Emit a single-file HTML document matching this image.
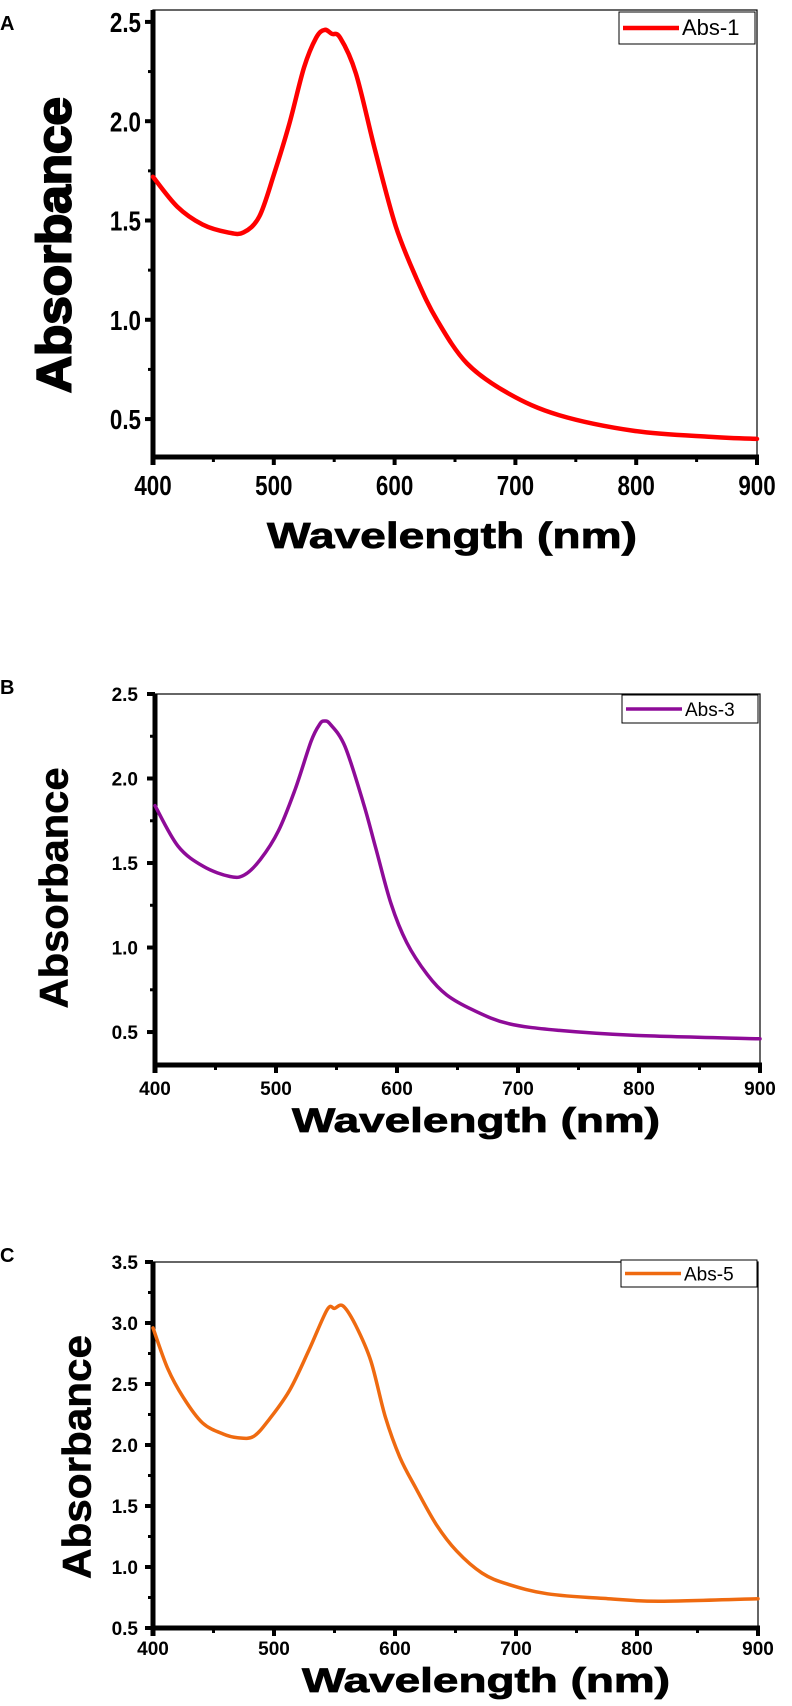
<!DOCTYPE html>
<html><head><meta charset="utf-8">
<style>
html,body{margin:0;padding:0;background:#fff;}
svg{display:block;font-family:"Liberation Sans",Arial,sans-serif;}
</style></head>
<body>
<svg id="fig" width="792" height="1706" viewBox="0 0 792 1706" xmlns="http://www.w3.org/2000/svg"></svg>
<script>
// Panel A data (Abs-1)
const wavelengthsA = [400,420,441,462,475,488,500,513,525,535,542,548,555,568,584,601,618,635,660,694,736,799,862,900];
const absorbA      = [1.72,1.57,1.48,1.44,1.44,1.52,1.73,1.99,2.27,2.42,2.46,2.44,2.42,2.24,1.85,1.47,1.21,1.00,0.78,0.63,0.52,0.44,0.41,0.40];
// Panel B data (Abs-3)
const wavelengthsB = [400,419,440,462,474,487,502,516,529,536,540,545,557,572,582,595,608,625,641,663,692,734,797,900];
const absorbB      = [1.84,1.60,1.48,1.42,1.43,1.52,1.69,1.94,2.22,2.32,2.34,2.32,2.19,1.86,1.60,1.26,1.03,0.84,0.72,0.63,0.55,0.51,0.48,0.46];
// Panel C data (Abs-5)
const wavelengthsC = [400,412,425,441,458,470,483,496,513,529,544,550,557,567,580,592,604,617,634,651,672,693,726,776,818,900];
const absorbC      = [2.96,2.63,2.39,2.18,2.09,2.06,2.07,2.21,2.45,2.78,3.11,3.12,3.14,2.99,2.69,2.23,1.90,1.65,1.35,1.13,0.95,0.86,0.78,0.74,0.72,0.74];
const xTicks = [400,500,600,700,800,900];
const yTicksA = [0.5,1.0,1.5,2.0,2.5];
const yTicksB = [0.5,1.0,1.5,2.0,2.5];
const yTicksC = [0.5,1.0,1.5,2.0,2.5,3.0,3.5];

const NS="http://www.w3.org/2000/svg";
const svg=document.getElementById('fig');
function mk(tag,attrs,parent){const e=document.createElementNS(NS,tag);for(const k in attrs)e.setAttribute(k,attrs[k]);(parent||svg).appendChild(e);return e;}
function smooth(pts){
  let d='M'+pts[0][0].toFixed(1)+','+pts[0][1].toFixed(1);
  for(let i=0;i<pts.length-1;i++){
    const p0=pts[Math.max(i-1,0)],p1=pts[i],p2=pts[i+1],p3=pts[Math.min(i+2,pts.length-1)];
    const c1=[p1[0]+(p2[0]-p0[0])/6,p1[1]+(p2[1]-p0[1])/6];
    const c2=[p2[0]-(p3[0]-p1[0])/6,p2[1]-(p3[1]-p1[1])/6];
    d+=` C${c1[0].toFixed(1)},${c1[1].toFixed(1)} ${c2[0].toFixed(1)},${c2[1].toFixed(1)} ${p2[0].toFixed(1)},${p2[1].toFixed(1)}`;
  }
  return d;
}

const panels=[
 {id:'a',letter:'A',lx:0,ly:30,x0:153,x1:757,yTop:10,yBot:457,vMin:0.309,vMax:2.56,xs:wavelengthsA,ys:absorbA,yt:yTicksA,color:'#ff0000',legend:'Abs-1',
  lg:[619,12,136,32],tickFs:28,tickScale:0.8,tickY:495,ytRight:141,yTitle:{x:53,y:245,len:296,fs:48},xTitle:{x:452,y:548,len:370,fs:36},lw:4.5},
 {id:'b',letter:'B',lx:0,ly:694,x0:155,x1:760,yTop:694,yBot:1065,vMin:0.305,vMax:2.5,xs:wavelengthsB,ys:absorbB,yt:yTicksB,color:'#8e0b98',legend:'Abs-3',
  lg:[622,695,136,28],tickFs:19,tickScale:1,tickY:1095,ytRight:138,yTitle:{x:53,y:888,len:241,fs:40},xTitle:{x:476,y:1132,len:368,fs:34},lw:3.5},
 {id:'c',letter:'C',lx:0,ly:1262,x0:153,x1:758,yTop:1262,yBot:1628,vMin:0.5,vMax:3.5,xs:wavelengthsC,ys:absorbC,yt:yTicksC,color:'#ef6a10',legend:'Abs-5',
  lg:[621,1260,136,27],tickFs:19,tickScale:1,tickY:1655,ytRight:138,yTitle:{x:76,y:1457,len:244,fs:40},xTitle:{x:486,y:1692,len:368,fs:34},lw:3.5}
];

panels.forEach(p=>{
  const g=mk('g',{});
  
  
  const X=v=>p.x0+(v-400)/500*(p.x1-p.x0);
  const Y=v=>p.yBot-(v-p.vMin)/(p.vMax-p.vMin)*(p.yBot-p.yTop);
  const L=mk('text',{x:p.lx,y:p.ly,'font-size':20,'font-weight':'bold',fill:'#000'},g);
  L.textContent=p.letter;
  
  
  const fr=mk('rect',{x:p.x0,y:p.yTop,width:p.x1-p.x0,height:p.yBot-p.yTop,fill:'none',stroke:'#000','stroke-width':1.2},g);
  
  
  const ya=mk('line',{x1:p.x0,y1:p.yTop,x2:p.x0,y2:p.yBot+8,stroke:'#000','stroke-width':5},g);
  
  
  const xa=mk('line',{x1:p.x0-2,y1:p.yBot,x2:p.x1+2,y2:p.yBot,stroke:'#000','stroke-width':5},g);
  
  
  xTicks.forEach((t,i)=>{
    const tk=mk('line',{x1:X(t),y1:p.yBot,x2:X(t),y2:p.yBot+8,stroke:'#000','stroke-width':4},g);
    
    
    if(i<xTicks.length-1){
      const mt=mk('line',{x1:X(t+50),y1:p.yBot,x2:X(t+50),y2:p.yBot+5,stroke:'#000','stroke-width':3},g);
      
      
    }
    const tl=mk('text',{x:0,y:0,'font-size':p.tickFs,'font-weight':'bold','text-anchor':'middle',fill:'#000',
      transform:`translate(${X(t)},${p.tickY}) scale(${p.tickScale},1)`},g);
    tl.textContent=t;
    
    
  });
  p.yt.forEach((t,i)=>{
    const tk=mk('line',{x1:p.x0-8,y1:Y(t),x2:p.x0,y2:Y(t),stroke:'#000','stroke-width':4},g);
    
    
    if(Y(t+0.25)>=p.yTop-1){
      const mt=mk('line',{x1:p.x0-5,y1:Y(t+0.25),x2:p.x0,y2:Y(t+0.25),stroke:'#000','stroke-width':3},g);
      
      
    }
    const tl=mk('text',{x:0,y:0,'font-size':p.tickFs,'font-weight':'bold','text-anchor':'end',fill:'#000',
      transform:`translate(${p.ytRight},${Y(t)+p.tickFs*0.36}) scale(${p.tickScale},1)`},g);
    tl.textContent=t.toFixed(1);
    
    
  });
  const pts=p.xs.map((x,i)=>[X(x),Y(p.ys[i])]);
  const cv=mk('path',{d:smooth(pts),fill:'none',stroke:p.color,'stroke-width':p.lw,'stroke-linejoin':'round','stroke-linecap':'round'},g);
  
  
  const lg=mk('g',{},g);
  
  
  const [lx,ly,lw,lh]=p.lg;
  mk('rect',{x:lx,y:ly,width:lw,height:lh,fill:'#fff',stroke:'#000','stroke-width':1},lg);
  const ll=mk('line',{x1:lx+4,y1:ly+lh/2,x2:lx+60,y2:ly+lh/2,stroke:p.color,'stroke-width':p.lw},lg);
  
  
  const lt=mk('text',{x:lx+63,y:ly+lh/2+7,'font-size':p.id==='a'?22:19,fill:'#000'},lg);
  lt.textContent=p.legend;
  
  
  const yt=mk('text',{x:0,y:0,'font-size':p.yTitle.fs,'font-weight':'bold','text-anchor':'middle',fill:'#000',
    stroke:'#000','stroke-width':p.id==='a'?2:0.6,textLength:p.yTitle.len,lengthAdjust:'spacingAndGlyphs',
    transform:`translate(${p.yTitle.x+p.yTitle.fs*0.36},${p.yTitle.y}) rotate(-90)`},g);
  yt.textContent='Absorbance';
  
  
  const xt=mk('text',{x:p.xTitle.x,y:p.xTitle.y,'font-size':p.xTitle.fs,'font-weight':'bold','text-anchor':'middle',fill:'#000',
    stroke:'#000','stroke-width':0.8,textLength:p.xTitle.len,lengthAdjust:'spacingAndGlyphs'},g);
  xt.textContent='Wavelength (nm)';
  
  
});
</script>
</body></html>
